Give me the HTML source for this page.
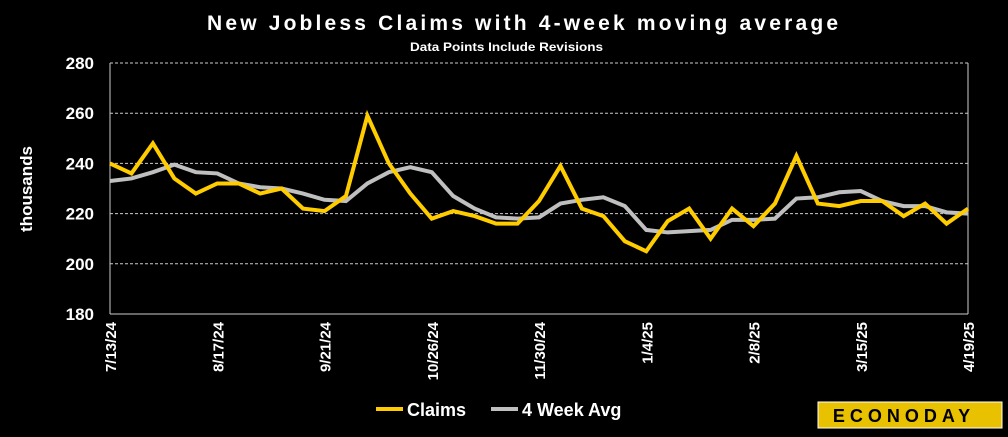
<!DOCTYPE html>
<html><head><meta charset="utf-8"><style>
body{margin:0;background:#000;width:1008px;height:432px;overflow:hidden;font-family:"Liberation Sans",sans-serif}
</style></head><body>
<svg id="chart" width="1008" height="432">
<text x="207" y="30" fill="#fff" font-size="21" font-weight="bold" textLength="631" lengthAdjust="spacing">New Jobless Claims with 4-week moving average</text>
<text x="410" y="51" fill="#fff" font-size="12" font-weight="bold" textLength="193" lengthAdjust="spacingAndGlyphs">Data Points Include Revisions</text>
<text transform="translate(32,189) rotate(-90)" fill="#fff" font-size="17" font-weight="bold" text-anchor="middle">thousands</text>
<g id="grid"></g><g id="ylab"></g><g id="xlab"></g><g id="series"></g>
<g>
<line x1="376" y1="409" x2="403" y2="409" stroke="#ffcc00" stroke-width="4"/>
<text x="407" y="416" fill="#fff" font-size="18" font-weight="bold">Claims</text>
<line x1="491" y1="409" x2="518" y2="409" stroke="#bfbfbf" stroke-width="4"/>
<text x="522" y="416" fill="#fff" font-size="18" font-weight="bold">4 Week Avg</text>
</g>
<g>
<rect x="818" y="402" width="184" height="26" fill="#e8c200" stroke="#fff" stroke-width="1"/>
<text x="904" y="422" fill="#000" font-size="18" font-weight="bold" text-anchor="middle" letter-spacing="5">ECONODAY</text>
</g>
</svg>
<script>
const dates=["7/13/24","8/17/24","9/21/24","10/26/24","11/30/24","1/4/25","2/8/25","3/15/25","4/19/25"];
const yTicks=[180,200,220,240,260,280];
const claims=[240,236,248,234,228,232,232,228,230,222,221,227,259,240,228,218,221,219,216,216,225,239,222,219,209,205,217,222,210,222,215,224,243,224,223,225,225,219,224,216,222];
const avg4=[233,234,236.5,239.5,236.5,236,232,230.5,230,228,225.5,225,232,236.5,238.5,236.5,227,222,218.5,218,218.5,224,225.5,226.5,223,213.5,212.5,213,213.5,217.5,217.5,218,226,226.5,228.5,229,225,223,223,220.5,220];
const L=110,R=968,T=63,B=314,ns="http://www.w3.org/2000/svg";
const X=i=>L+(R-L)*i/(claims.length-1);
const Y=v=>B-(v-180)/100*(B-T);
function mk(t,a,p){const e=document.createElementNS(ns,t);for(const k in a)e.setAttribute(k,a[k]);p.appendChild(e);return e;}
const grid=document.getElementById('grid'),yl=document.getElementById('ylab'),xl=document.getElementById('xlab'),sg=document.getElementById('series');
yTicks.forEach(v=>{
  if(v>180){const g=mk('line',{x1:L,x2:R,y1:Y(v),y2:Y(v),stroke:'#ccc','stroke-width':1,'stroke-dasharray':'3,2'},grid);
  
  }
  const t=mk('text',{x:94,y:Y(v)+6,fill:'#fff','font-size':17,'font-weight':'bold','text-anchor':'end'},yl);t.textContent=v;
  
  
});
const ax=mk('line',{x1:L,x2:L,y1:T,y2:B,stroke:'#ccc','stroke-width':1},grid);


const ax2=mk('line',{x1:R,x2:R,y1:T,y2:B,stroke:'#ccc','stroke-width':1},grid);


const bx=mk('line',{x1:L,x2:R,y1:B,y2:B,stroke:'#ccc','stroke-width':1},grid);


dates.forEach((d,k)=>{const x=X(k*5);
  const t=mk('text',{transform:`translate(${x+6},322) rotate(-90)`,fill:'#fff','font-size':15,'font-weight':'bold','text-anchor':'end'},xl);t.textContent=d;
  
  
});
function line(arr,color,name){const p=mk('polyline',{points:arr.map((v,i)=>X(i)+','+Y(v)).join(' '),fill:'none',stroke:color,'stroke-width':4,'stroke-linejoin':'miter'},sg);
  
  }
line(avg4,'#bfbfbf','avg-line');
line(claims,'#ffcc00','claims-line');
</script>
</body></html>
